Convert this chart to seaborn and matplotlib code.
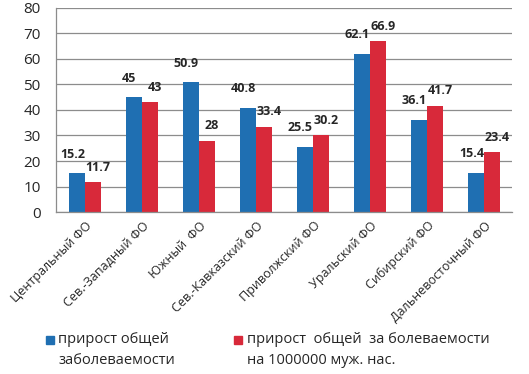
import numpy as np
import pandas as pd
import matplotlib
matplotlib.use("Agg")
import matplotlib.pyplot as plt
import seaborn as sns
from matplotlib.legend_handler import HandlerLine2D

regions = ['Центральный ФО', 'Сев.-Западный ФО', 'Южный  ФО', 'Сев.-Кавказский ФО',
           'Приволжский ФО', 'Уральский ФО', 'Сибирский ФО', 'Дальневосточный ФО']
series = ['прирост общей\nзаболеваемости',
          'прирост  общей  за болеваемости\nна 1000000 муж. нас.']
growth_total = [15.2, 45, 50.9, 40.8, 25.5, 62.1, 36.1, 15.4]
growth_male = [11.7, 43, 28, 33.4, 30.2, 66.9, 41.7, 23.4]
colors = ['#1f6fb2', '#d8293a']

df = pd.DataFrame({
    'region': regions * 2,
    'series': [series[0]] * len(regions) + [series[1]] * len(regions),
    'value': growth_total + growth_male,
})

sns.set_style('white')
plt.rcParams['font.family'] = ['Open Sans', 'DejaVu Sans']

fig = plt.figure(figsize=(5.29, 3.74), dpi=100)
ax = fig.add_axes([0.106, 0.433, 0.862, 0.546])

sns.barplot(data=df, x='region', y='value', hue='series', palette=colors,
            width=0.56, gap=0, saturation=1, linewidth=0, ax=ax, legend=False)

# labels: blue ones a bit left/up, red ones a bit right, like the original
shifts = [(-3, 9), (4, 6)]
for cont, (dx, dy) in zip(ax.containers, shifts):
    for bar in cont:
        h = bar.get_height()
        ax.annotate(f'{h:g}', (bar.get_x() + bar.get_width() / 2, h),
                    xytext=(dx, dy), textcoords='offset points',
                    ha='center', va='bottom', fontsize=9, fontweight='bold')

ax.set_ylim(0, 80)
ax.set_yticks(range(0, 81, 10))
ax.set_xlim(-0.5, len(regions) - 0.5)
ax.yaxis.grid(True, color='#8c8c8c', linewidth=0.9)
ax.set_axisbelow(True)
ax.set_xlabel('')
ax.set_ylabel('')
for s in ['top', 'right']:
    ax.spines[s].set_visible(False)
for s in ['left', 'bottom']:
    ax.spines[s].set_color('#8c8c8c')
    ax.spines[s].set_linewidth(0.9)

ax.tick_params(axis='y', length=0, labelsize=11, pad=11)
ax.tick_params(axis='x', which='major', length=0, labelsize=9, pad=5)
ax.set_xticks(np.arange(len(regions)) + 0.5, minor=True)
ax.tick_params(axis='x', which='minor', length=4, color='#8c8c8c', width=0.9)
ax.set_xticks(np.arange(len(regions)) + 0.02)
ax.set_xticklabels(regions, rotation=45, ha='right', rotation_mode='anchor')


class TopMarker(HandlerLine2D):
    # put the square next to the first line of a two-line label
    def create_artists(self, legend, orig_handle, xdescent, ydescent,
                       width, height, fontsize, trans):
        arts = super().create_artists(legend, orig_handle, xdescent, ydescent,
                                      width, height, fontsize, trans)
        for a in arts:
            a.set_ydata(np.asarray(a.get_ydata()) + 0.72 * fontsize)
        return arts


handles = [plt.Line2D([0], [0], marker='s', linestyle='', markersize=6,
                      markerfacecolor=c, markeredgecolor=c) for c in colors]
leg = fig.legend(handles, series, ncol=2, frameon=False, loc='upper left',
                 bbox_to_anchor=(0.083, 0.112), fontsize=10.5, handletextpad=0.2,
                 columnspacing=3.9, handlelength=0.8, borderpad=0, borderaxespad=0,
                 handler_map={plt.Line2D: TopMarker()})
for t in leg.get_texts():
    t.set_linespacing(1.5)

fig.savefig('out.png', dpi=100)
